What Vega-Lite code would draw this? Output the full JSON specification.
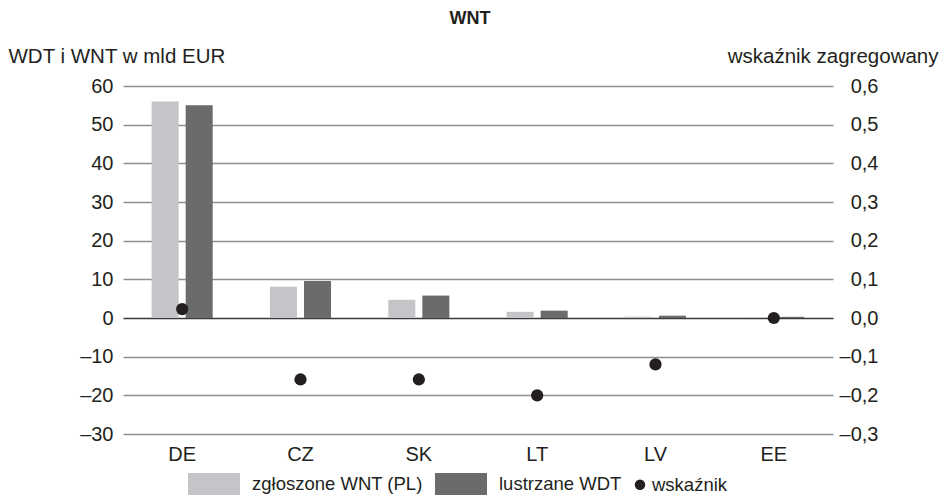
{
  "$schema": "https://vega.github.io/schema/vega-lite/v6.json",
  "width": 710,
  "height": 348,
  "autosize": {"type": "none"},
  "padding": {"left": 123, "top": 86, "right": 107, "bottom": 64},
  "background": "white",
  "title": {"text": "WNT", "fontSize": 18, "fontWeight": "bold", "font": "Liberation Sans", "color": "#231f20", "anchor": "middle", "dx": -8, "offset": 18},
  "config": {
    "view": {"stroke": null},
    "font": "Liberation Sans",
    "axis": {"labelFont": "Liberation Sans", "titleFont": "Liberation Sans", "labelColor": "#231f20", "titleColor": "#231f20", "labelFontSize": 20, "titleFontSize": 20.5, "titleFontWeight": "normal"},
    "legend": {"labelFont": "Liberation Sans", "labelColor": "#231f20", "labelFontSize": 18.5, "labelLimit": 400}
  },
  "datasets": {
    "bars": [
      {"kraj": "DE", "seria": "zgłoszone WNT (PL)", "wartosc": 56.0},
      {"kraj": "DE", "seria": "lustrzane WDT", "wartosc": 55.0},
      {"kraj": "CZ", "seria": "zgłoszone WNT (PL)", "wartosc": 8.1},
      {"kraj": "CZ", "seria": "lustrzane WDT", "wartosc": 9.6},
      {"kraj": "SK", "seria": "zgłoszone WNT (PL)", "wartosc": 4.7},
      {"kraj": "SK", "seria": "lustrzane WDT", "wartosc": 5.8},
      {"kraj": "LT", "seria": "zgłoszone WNT (PL)", "wartosc": 1.6},
      {"kraj": "LT", "seria": "lustrzane WDT", "wartosc": 1.9},
      {"kraj": "LV", "seria": "zgłoszone WNT (PL)", "wartosc": 0.35},
      {"kraj": "LV", "seria": "lustrzane WDT", "wartosc": 0.6},
      {"kraj": "EE", "seria": "zgłoszone WNT (PL)", "wartosc": 0.2},
      {"kraj": "EE", "seria": "lustrzane WDT", "wartosc": 0.3}
    ],
    "points": [
      {"kraj": "DE", "seria": "wskaźnik", "wskaznik": 0.023},
      {"kraj": "CZ", "seria": "wskaźnik", "wskaznik": -0.159},
      {"kraj": "SK", "seria": "wskaźnik", "wskaznik": -0.159},
      {"kraj": "LT", "seria": "wskaźnik", "wskaznik": -0.2},
      {"kraj": "LV", "seria": "wskaźnik", "wskaznik": -0.12},
      {"kraj": "EE", "seria": "wskaźnik", "wskaznik": 0.0}
    ]
  },
  "encoding": {
    "x": {
      "field": "kraj", "type": "nominal", "sort": ["DE", "CZ", "SK", "LT", "LV", "EE"],
      "scale": {"paddingInner": 0.484, "paddingOuter": 0.242},
      "axis": {"title": null, "labelAngle": 0, "labelPadding": 10, "ticks": false, "domain": false, "grid": false}
    },
    "color": {
      "field": "seria", "type": "nominal",
      "scale": {"domain": ["zgłoszone WNT (PL)", "lustrzane WDT", "wskaźnik"], "range": ["#c4c5c9", "#6a6b6d", "#231f20"]},
      "legend": {
        "orient": "none", "legendX": 65, "legendY": 372, "direction": "horizontal", "title": null,
        "symbolType": "M-1,-0.42H1V0.42H-1Z", "symbolSize": 2704, "symbolStrokeWidth": 0,
        "labelOffset": 12, "columnPadding": 12,
        "encode": {
          "symbols": {"update": {
            "shape": {"signal": "datum.value === 'wskaźnik' ? 'circle' : 'M-1,-0.42H1V0.42H-1Z'"},
            "size": {"signal": "datum.value === 'wskaźnik' ? 110 : 2704"},
            "x": {"signal": "datum.value === 'wskaźnik' ? -6 : 26"},
            "fillOpacity": {"value": 1}
          }},
          "labels": {"update": {
            "x": {"signal": "datum.value === 'wskaźnik' ? 6 : 64"}
          }}
        }
      }
    }
  },
  "layer": [
    {
      "data": {"name": "bars"},
      "mark": {"type": "bar"},
      "encoding": {
        "xOffset": {"field": "seria", "type": "nominal", "scale": {"domain": ["zgłoszone WNT (PL)", "lustrzane WDT"], "paddingInner": 0.206, "paddingOuter": 0}},
        "y": {
          "field": "wartosc", "type": "quantitative",
          "scale": {"domain": [-30, 60], "nice": false},
          "axis": {
            "title": "WDT i WNT w mld EUR", "titleAngle": 0, "titleAlign": "left", "titleBaseline": "middle", "titleX": -115, "titleY": -30,
            "values": [-30, -20, -10, 0, 10, 20, 30, 40, 50, 60],
            "labelExpr": "datum.value < 0 ? '–' + abs(datum.value) : '' + datum.value",
            "labelPadding": 10, "ticks": false, "domain": false, "grid": true, "gridWidth": 1.5,
            "gridColor": {"condition": {"test": "datum.value === 0", "value": "#3a3a3a"}, "value": "#8f8f8f"}
          }
        }
      }
    },
    {
      "data": {"name": "points"},
      "mark": {"type": "point", "filled": true, "size": 150, "opacity": 1},
      "encoding": {
        "y": {
          "field": "wskaznik", "type": "quantitative",
          "scale": {"domain": [-0.3, 0.6], "nice": false, "zero": false},
          "axis": {
            "orient": "right",
            "title": "wskaźnik zagregowany", "titleAngle": 0, "titleAlign": "right", "titleBaseline": "middle", "titleX": 105, "titleY": -30,
            "values": [-0.3, -0.2, -0.1, 0, 0.1, 0.2, 0.3, 0.4, 0.5, 0.6],
            "labelExpr": "replace(replace(format(datum.value, '.1f'), '.', ','), '−', '–')",
            "labelAlign": "right", "labelPadding": 45, "ticks": false, "domain": false, "grid": false
          }
        }
      }
    }
  ],
  "resolve": {"scale": {"y": "independent"}}
}
